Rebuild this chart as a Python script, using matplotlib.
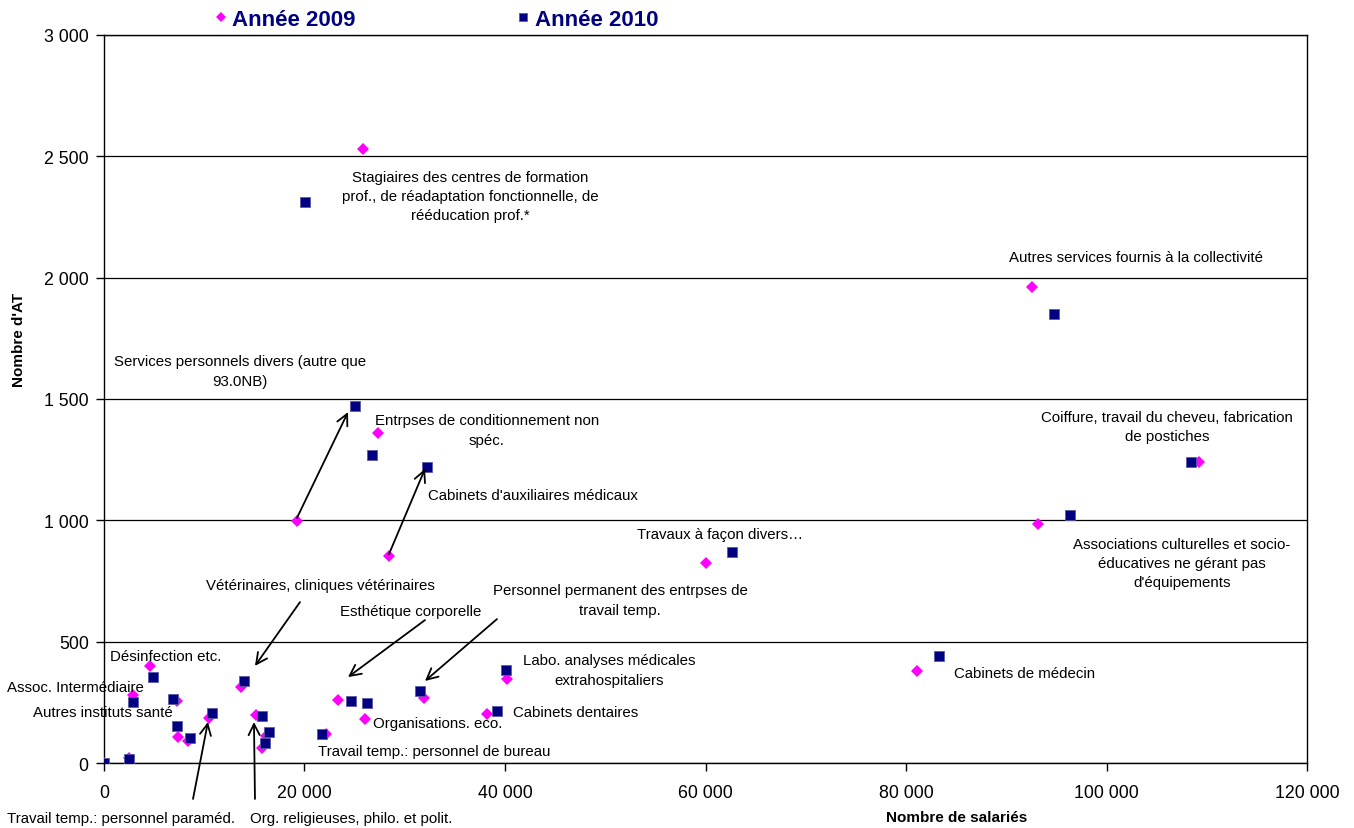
import matplotlib
matplotlib.use("Agg")
import matplotlib.pyplot as plt
from matplotlib.ticker import FuncFormatter, MultipleLocator

plt.rcParams['font.family'] = ['Liberation Sans', 'DejaVu Sans']

# === DATA ===
x2009 = [0, 2500, 2900, 4600, 7300, 7400, 8400, 10500, 13700, 15200, 15800, 16200,
         19300, 22100, 23300, 25800, 26000, 27300, 28400, 31900, 38200, 40200,
         60000, 81100, 92600, 93200, 109200]
y2009 = [0, 20, 280, 400, 255, 107, 90, 185, 313, 198, 60, 111,
         997, 120, 260, 2530, 181, 1360, 853, 268, 202, 346,
         824, 379, 1960, 985, 1240]

x2010 = [0, 2500, 2900, 4900, 6900, 7300, 8600, 10800, 14000, 15800, 16100, 16500,
         20100, 21700, 24600, 25000, 26200, 26700, 31500, 32200, 39200, 40100,
         62600, 83300, 94800, 96400, 108400]
y2010 = [0, 17, 251, 354, 264, 153, 103, 206, 338, 194, 82, 128,
         2312, 120, 256, 1471, 247, 1269, 297, 1220, 215, 385,
         870, 441, 1852, 1020, 1240]

series_labels = ["Année 2009", "Année 2010"]

# centred labels: (text, x, y)
labels = [
    ("Stagiaires des centres de formation\nprof., de réadaptation fonctionnelle, de\nrééducation prof.*", 36510, 2337),
    ("Autres services fournis à la collectivité", 102940, 2085),
    ("Services personnels divers (autre que\n93.0NB)", 13570, 1615),
    ("Entrpses de conditionnement non\nspéc.", 38200, 1372),
    ("Coiffure, travail du cheveu, fabrication\nde postiches", 106030, 1385),
    ("Cabinets d'auxiliaires médicaux", 42790, 1104),
    ("Travaux à façon divers…", 61450, 944),
    ("Associations culturelles et socio-\néducatives ne gérant pas\nd'équipements", 107530, 824),
    ("Vétérinaires, cliniques vétérinaires", 21550, 734),
    ("Personnel permanent des entrpses de\ntravail temp.", 51470, 672),
    ("Esthétique corporelle", 30620, 626),
    ("Désinfection etc.", 6180, 441),
    ("Labo. analyses médicales\nextrahospitaliers", 50370, 383),
    ("Cabinets de médecin", 91870, 371),
    ("Assoc. Intermédiaire", -2890, 313),
    ("Autres instituts santé", -100, 210),
    ("Cabinets dentaires", 47080, 210),
    ("Organisations. eco.", 33320, 165),
    ("Travail temp.: personnel de bureau", 32920, 49),
]

# labels below the axis, left aligned: (text, x, y)
bottom_labels = [
    ("Travail temp.: personnel paraméd.", -9700, -227),
    ("Org. religieuses, philo. et polit.", 14560, -227),
]

# arrows: (tail x, tail y, head x, head y)
arrows = [
    (19250, 1010, 24340, 1446),
    (28430, 861, 32020, 1212),
    (19550, 663, 15060, 400),
    (32020, 589, 24340, 354),
    (39200, 593, 32020, 338),
    (8880, -148, 10370, 169),
    (15060, -148, 14960, 169),
]

# === PLOT ===
fig = plt.figure(figsize=(13.54, 8.29), dpi=100)
ax = fig.add_axes([0.0768, 0.0784, 0.8885, 0.8782])

ax.plot(x2009, y2009, linestyle='none', marker='D', color='#FF00FF',
        markersize=6.5, markeredgewidth=0, label=series_labels[0], zorder=3)
ax.plot(x2010, y2010, linestyle='none', marker='s', color='#000080',
        markersize=7, markeredgewidth=0.6, markeredgecolor='#5a5aa8',
        label=series_labels[1], zorder=3)

ax.set_xlim(0, 120000)
ax.set_ylim(0, 3000)
ax.xaxis.set_major_locator(MultipleLocator(20000))
ax.yaxis.set_major_locator(MultipleLocator(500))
fmt = FuncFormatter(lambda v, p: f"{int(v):,}".replace(",", " "))
ax.xaxis.set_major_formatter(fmt)
ax.yaxis.set_major_formatter(fmt)
ax.tick_params(axis='both', direction='out', length=6, width=1, labelsize=12.8)
ax.tick_params(axis='x', pad=9)
ax.tick_params(axis='y', pad=5)
ax.yaxis.grid(True, color='black', linewidth=0.9)
ax.set_axisbelow(True)
for s in ax.spines.values():
    s.set_color('black')
    s.set_linewidth(1)

ax.set_xlabel("Nombre de salariés", fontsize=11, fontweight='bold')
ax.set_ylabel("Nombre d'AT", fontsize=11, fontweight='bold')
ax.xaxis.set_label_coords(0.709, -0.064)
ax.yaxis.set_label_coords(-0.0645, 0.582)

for txt, x, y in labels:
    ax.text(x, y, txt, ha='center', va='center', fontsize=10.8,
            linespacing=1.47, clip_on=False)

for txt, x, y in bottom_labels:
    ax.text(x, y, txt, ha='left', va='center', fontsize=10.8, clip_on=False)

for x0, y0, x1, y1 in arrows:
    ax.annotate("", xy=(x1, y1), xytext=(x0, y0), annotation_clip=False,
                arrowprops=dict(arrowstyle='->', color='black', lw=1.3,
                                mutation_scale=20, shrinkA=0, shrinkB=0))

leg = ax.legend(loc='lower left', bbox_to_anchor=(0.0835, 0.9945), ncol=2,
                frameon=False, columnspacing=7.2, handletextpad=0.15,
                handlelength=0.7, markerscale=0.8, borderaxespad=0,
                prop={'weight': 'bold', 'size': 16})
for t in leg.get_texts():
    t.set_color('#000080')

fig.savefig("out.png", dpi=100)
